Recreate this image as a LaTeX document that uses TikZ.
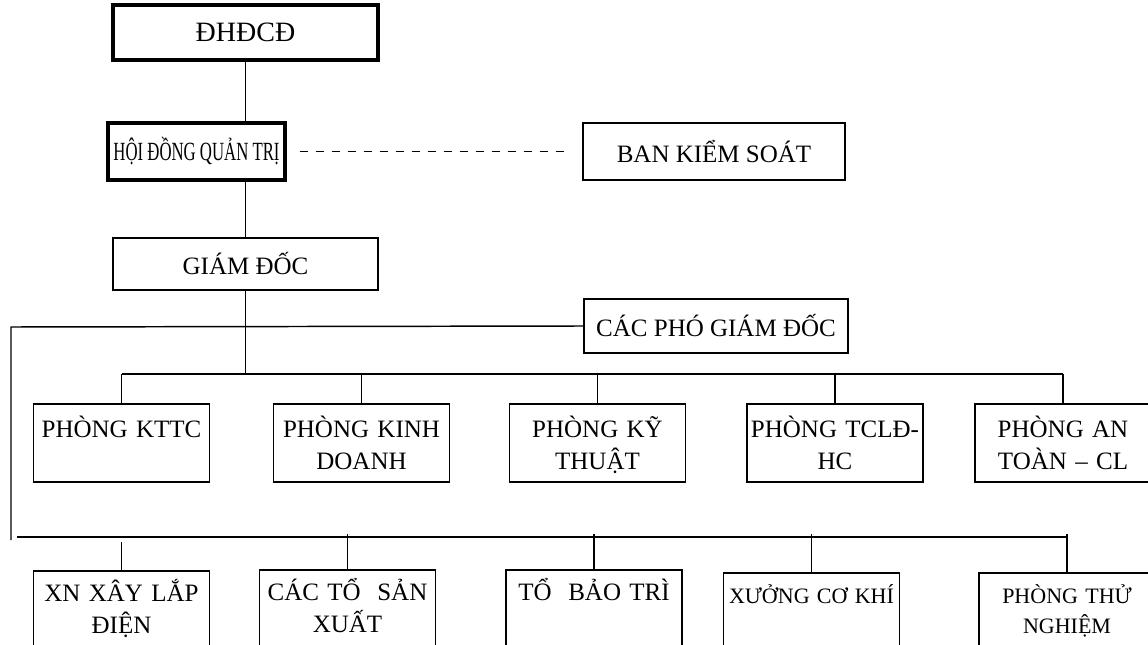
\documentclass[tikz,border=0pt]{standalone}
\usepackage{fontspec}
\setmainfont{Liberation Serif}
\usepackage{graphicx}
\usepackage{tikz}
\usetikzlibrary{positioning,calc}

\newcommand{\pxu}{0.75pt}

\begin{document}
\begin{tikzpicture}[x=0.75pt, y=-0.75pt,
        every node/.style={font=\fontsize{18.75}{24}\selectfont},
        headbox/.style={draw, line width=2.6pt, inner sep=0pt},
        sidebox/.style={draw, line width=1.6pt, inner sep=0pt},
        unit/.style={draw, line width=1pt, inner sep=0pt, align=center,
            text width=176*\pxu, text height=33*\pxu, text depth=45*\pxu},
        unitlow/.style={unit, text height=30*\pxu, text depth=80*\pxu},
        link/.style={line width=1.1pt}]

        \useasboundingbox (0,0) rectangle (1148,645);
        \clip (0,0) rectangle (1148,645);

        % Top - shareholders
        \node[headbox, minimum width=265*\pxu, minimum height=55*\pxu, font=\fontsize{21}{24}\selectfont] (dhdcd) at (245.5,32.5) {ĐHĐCĐ};

        % Board and supervisors
        \node[headbox, minimum width=177*\pxu, minimum height=57*\pxu] (hdqt) at (196.5,151.5) {\scalebox{0.67}[1.05]{HỘI ĐỒNG QUẢN TRỊ}};
        \node[sidebox, minimum width=262*\pxu, minimum height=57*\pxu] (bks) at (714,151.5) {BAN KIỂM SOÁT};

        % Director and deputies
        \node[draw, line width=1.3pt, inner sep=0pt, minimum width=265*\pxu, minimum height=52*\pxu] (gd) at (245.5,264) {GIÁM ĐỐC};
        \node[sidebox, minimum width=264*\pxu, minimum height=54*\pxu] (pgd) at (716,326) {CÁC PHÓ GIÁM ĐỐC};

        % Departments
        \node[unit] (kttc) at (121.5,443) {PHÒNG KTTC};
        \node[unit] (kd) at (361.5,443) {PHÒNG KINH\\DOANH};
        \node[unit] (kt) at (597.5,443) {PHÒNG KỸ\\THUẬT};
        \node[unit] (tcld) at (835,443) {PHÒNG TCLĐ-\\HC};
        \node[unit] (at) at (1063,443) {PHÒNG AN\\TOÀN – CL};

        % Production units
        \node[unitlow] (xn) at (121.5,626) {XN XÂY LẮP\\ĐIỆN};
        \node[unitlow] (cts) at (347.5,625) {CÁC TỔ~~SẢN\\XUẤT};
        \node[unitlow] (tbt) at (594,625) {TỔ~~BẢO TRÌ};
        \node[unitlow, font=\fontsize{16.5}{22.5}\selectfont] (xck) at (811.5,628) {XƯỞNG CƠ KHÍ};
        \node[unitlow, font=\fontsize{16.5}{22.5}\selectfont] (tn) at (1067,628) {PHÒNG THỬ\\NGHIỆM};

        % Bus points
        \coordinate (topbus) at (247,374);
        \coordinate (lefttop) at (11,327);
        \coordinate (leftbot) at (11,540);
        \coordinate (botbus) at (17,537);

        % Connecting lines
        \draw[link] (dhdcd.south) -- (dhdcd.south |- hdqt.north);
        \draw[link] (hdqt.south -| gd.north) -- (gd.north);
        \draw[link, line width=1.3pt, dash pattern=on 6.5pt off 5.5pt, shorten <=13*\pxu, shorten >=14*\pxu] (hdqt) -- (bks);
        \draw[link] (gd.south) -- (gd.south |- topbus);
        \draw[link] (pgd.west) -- (lefttop) -- (leftbot);
        \draw[link] (kttc.north |- topbus) -- (at.north |- topbus);
        \foreach \u in {kttc,kd,kt,tcld,at}
            \draw[link] (\u.north |- topbus) -- (\u.north);
        \draw[link] (botbus) -- (tn.north |- botbus);
        \draw[link] ($(xn.north)+(0,-28)$) -- (xn.north);
        \foreach \u in {cts,tbt,xck,tn}
            \draw[link] ($(\u.north |- botbus)+(0,-3)$) -- (\u.north);
    \end{tikzpicture}
\end{document}
